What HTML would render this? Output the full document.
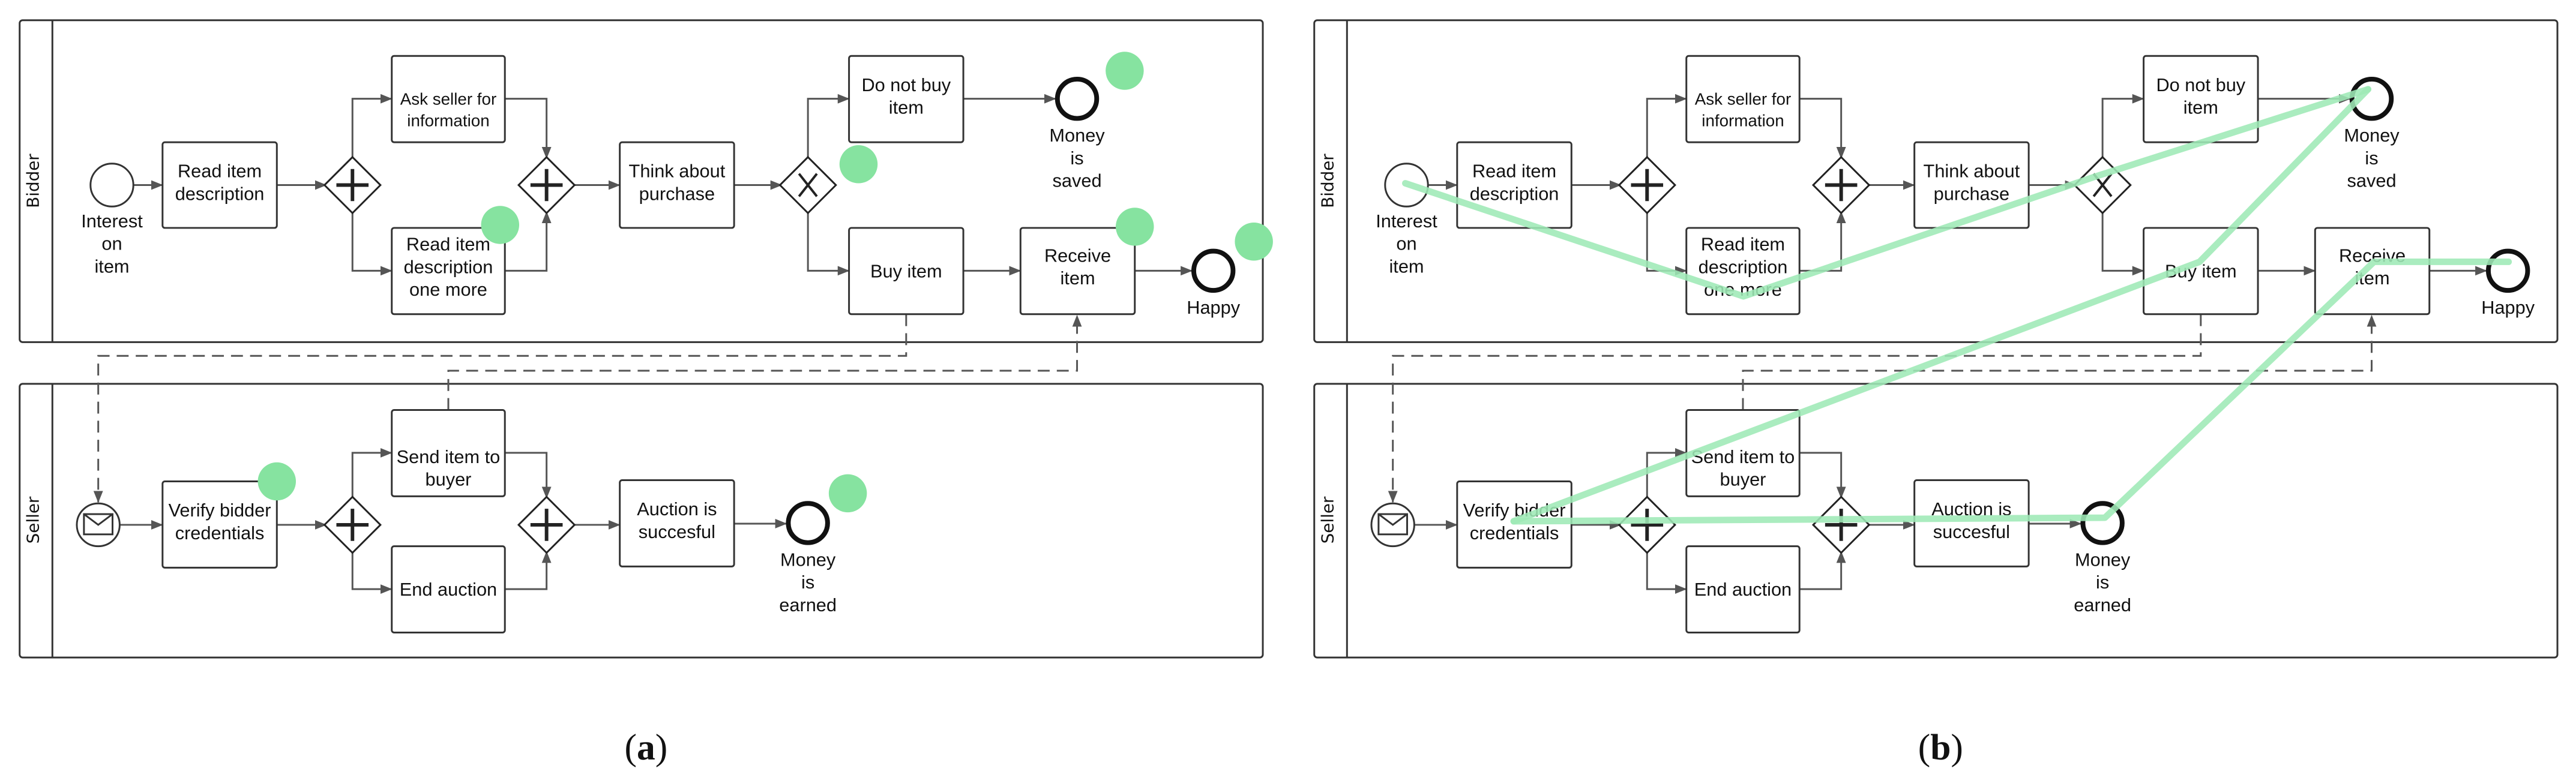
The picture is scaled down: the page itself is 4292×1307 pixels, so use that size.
<!DOCTYPE html>
<html><head><meta charset="utf-8"><style>
html,body{margin:0;padding:0;background:#fff}
svg{display:block}
text{font-family:"Liberation Sans",Arial,sans-serif;fill:#111}
</style></head><body>
<svg width="4292" height="1307" viewBox="0 0 4292 1307" xmlns="http://www.w3.org/2000/svg">
<defs>
<marker id="ar2" markerWidth="20" markerHeight="16" refX="19" refY="8" orient="auto" markerUnits="userSpaceOnUse">
<path d="M0,0 L20,8 L0,16 z" fill="#555"/>
</marker>
</defs>

<!-- PANEL A -->
<g transform="scale(0.992,0.992)">
<g fill="none" stroke="#333" stroke-width="3">
<rect x="33" y="34" width="2088" height="541" rx="5"/>
<line x1="88" y1="34" x2="88" y2="575"/>
<rect x="33" y="645" width="2088" height="460" rx="5"/>
<line x1="88" y1="645" x2="88" y2="1105"/>
</g>
<text transform="translate(65,304) rotate(-90)" text-anchor="middle" style="font-family:'DejaVu Sans','Liberation Sans',sans-serif;font-size:28px">Bidder</text>
<text transform="translate(65,874) rotate(-90)" text-anchor="middle" style="font-family:'DejaVu Sans','Liberation Sans',sans-serif;font-size:28px">Seller</text>
<g fill="none" stroke="#555" stroke-width="3" marker-end="url(#ar2)">
<path d="M224,311 H273"/>
<path d="M465,311 H548"/>
<path d="M592,266 V166 H658"/>
<path d="M592,356 V455 H658"/>
<path d="M848,166 H918 V266"/>
<path d="M848,455 H918 V356"/>
<path d="M962,311 H1041"/>
<path d="M1233,311 H1313"/>
<path d="M1357,266 V166 H1426"/>
<path d="M1357,356 V455 H1426"/>
<path d="M1618,166 H1773"/>
<path d="M1618,455 H1714"/>
<path d="M1906,455 H2002"/>
<path d="M201,882 H273"/>
<path d="M465,882 H548"/>
<path d="M592,837 V761 H658"/>
<path d="M592,927 V990 H658"/>
<path d="M848,761 H918 V837"/>
<path d="M848,990 H918 V927"/>
<path d="M962,882 H1041"/>
<path d="M1233,880 H1321"/>
</g>
<g fill="none" stroke="#555" stroke-width="3" stroke-dasharray="20,12">
<path d="M1522,528 V598 H165 V844" marker-end="url(#ar2)"/>
<path d="M753,689 V623 H1809 V530" marker-end="url(#ar2)"/>
</g>
<g fill="#fff" stroke="#333" stroke-width="3">
<rect x="273" y="239" width="192" height="144" rx="4"/>
<rect x="658" y="94" width="190" height="145" rx="4"/>
<rect x="658" y="383" width="190" height="145" rx="4"/>
<rect x="1041" y="239" width="192" height="144" rx="4"/>
<rect x="1426" y="94" width="192" height="145" rx="4"/>
<rect x="1426" y="383" width="192" height="145" rx="4"/>
<rect x="1714" y="383" width="192" height="145" rx="4"/>
<rect x="273" y="809" width="192" height="145" rx="4"/>
<rect x="658" y="689" width="190" height="145" rx="4"/>
<rect x="658" y="918" width="190" height="145" rx="4"/>
<rect x="1041" y="807" width="192" height="145" rx="4"/>
</g>
<g fill="#fff" stroke="#333" stroke-width="3">
<circle cx="188" cy="311" r="36"/>
<circle cx="165" cy="882" r="36"/>
<rect x="141" y="864" width="48" height="34" fill="none"/>
<path d="M141,864 L165,882 L189,864" fill="none"/>
</g>
<g fill="#fff" stroke="#111" stroke-width="8">
<circle cx="1809" cy="166" r="33"/>
<circle cx="2038" cy="455" r="33"/>
<circle cx="1357" cy="879" r="33"/>
</g>
<g fill="#fff" stroke="#222" stroke-width="3">
<path d="M592,264 L639,311 L592,358 L545,311 z"/>
<path d="M918,264 L965,311 L918,358 L871,311 z"/>
<path d="M1357,264 L1404,311 L1357,358 L1310,311 z"/>
<path d="M592,835 L639,882 L592,929 L545,882 z"/>
<path d="M918,835 L965,882 L918,929 L871,882 z"/>
</g>
<g stroke="#222" stroke-width="6">
<path d="M592,284 V338 M565,311 H619"/>
<path d="M918,284 V338 M891,311 H945"/>
<path d="M592,855 V909 M565,882 H619"/>
<path d="M918,855 V909 M891,882 H945"/>
<path d="M1342,292 L1372,330 M1372,292 L1342,330" stroke-width="4"/>
</g>
<g font-size="31" text-anchor="middle">
<text x="188" y="382">Interest</text><text x="188" y="420">on</text><text x="188" y="458">item</text>
<text x="369" y="298">Read item</text><text x="369" y="336">description</text>
<text x="753" y="176" font-size="28">Ask seller for</text><text x="753" y="212" font-size="28">information</text>
<text x="753" y="421">Read item</text><text x="753" y="459">description</text><text x="753" y="497">one more</text>
<text x="1137" y="298">Think about</text><text x="1137" y="336">purchase</text>
<text x="1522" y="153">Do not buy</text><text x="1522" y="191">item</text>
<text x="1809" y="238">Money</text><text x="1809" y="276">is</text><text x="1809" y="314">saved</text>
<text x="1522" y="466">Buy item</text>
<text x="1810" y="440">Receive</text><text x="1810" y="478">item</text>
<text x="2038" y="527">Happy</text>
<text x="369" y="868">Verify bidder</text><text x="369" y="906">credentials</text>
<text x="753" y="778">Send item to</text><text x="753" y="816">buyer</text>
<text x="753" y="1001">End auction</text>
<text x="1137" y="866">Auction is</text><text x="1137" y="904">succesful</text>
<text x="1357" y="951">Money</text><text x="1357" y="989">is</text><text x="1357" y="1027">earned</text>
</g>
<g fill="#86e3a0">
<circle cx="1889" cy="119" r="32"/>
<circle cx="1442" cy="276" r="32"/>
<circle cx="840" cy="378" r="32"/>
<circle cx="1906" cy="381" r="32"/>
<circle cx="2106" cy="406" r="32"/>
<circle cx="465" cy="809" r="32"/>
<circle cx="1424" cy="829" r="32"/>
</g>
<text x="1085" y="1276" font-size="62" text-anchor="middle" style="font-family:'Liberation Serif',serif">(<tspan font-weight="bold">a</tspan>)</text>
</g>

<!-- PANEL B -->
<g transform="translate(2157,0) scale(0.992,0.992)">
<g fill="none" stroke="#333" stroke-width="3">
<rect x="33" y="34" width="2088" height="541" rx="5"/>
<line x1="88" y1="34" x2="88" y2="575"/>
<rect x="33" y="645" width="2088" height="460" rx="5"/>
<line x1="88" y1="645" x2="88" y2="1105"/>
</g>
<text transform="translate(65,304) rotate(-90)" text-anchor="middle" style="font-family:'DejaVu Sans','Liberation Sans',sans-serif;font-size:28px">Bidder</text>
<text transform="translate(65,874) rotate(-90)" text-anchor="middle" style="font-family:'DejaVu Sans','Liberation Sans',sans-serif;font-size:28px">Seller</text>
<g fill="none" stroke="#555" stroke-width="3" marker-end="url(#ar2)">
<path d="M224,311 H273"/>
<path d="M465,311 H548"/>
<path d="M592,266 V166 H658"/>
<path d="M592,356 V455 H658"/>
<path d="M848,166 H918 V266"/>
<path d="M848,455 H918 V356"/>
<path d="M962,311 H1041"/>
<path d="M1233,311 H1313"/>
<path d="M1357,266 V166 H1426"/>
<path d="M1357,356 V455 H1426"/>
<path d="M1618,166 H1773"/>
<path d="M1618,455 H1714"/>
<path d="M1906,455 H2002"/>
<path d="M201,882 H273"/>
<path d="M465,882 H548"/>
<path d="M592,837 V761 H658"/>
<path d="M592,927 V990 H658"/>
<path d="M848,761 H918 V837"/>
<path d="M848,990 H918 V927"/>
<path d="M962,882 H1041"/>
<path d="M1233,880 H1321"/>
</g>
<g fill="none" stroke="#555" stroke-width="3" stroke-dasharray="20,12">
<path d="M1522,528 V598 H165 V844" marker-end="url(#ar2)"/>
<path d="M753,689 V623 H1809 V530" marker-end="url(#ar2)"/>
</g>
<g fill="#fff" stroke="#333" stroke-width="3">
<rect x="273" y="239" width="192" height="144" rx="4"/>
<rect x="658" y="94" width="190" height="145" rx="4"/>
<rect x="658" y="383" width="190" height="145" rx="4"/>
<rect x="1041" y="239" width="192" height="144" rx="4"/>
<rect x="1426" y="94" width="192" height="145" rx="4"/>
<rect x="1426" y="383" width="192" height="145" rx="4"/>
<rect x="1714" y="383" width="192" height="145" rx="4"/>
<rect x="273" y="809" width="192" height="145" rx="4"/>
<rect x="658" y="689" width="190" height="145" rx="4"/>
<rect x="658" y="918" width="190" height="145" rx="4"/>
<rect x="1041" y="807" width="192" height="145" rx="4"/>
</g>
<g fill="#fff" stroke="#333" stroke-width="3">
<circle cx="188" cy="311" r="36"/>
<circle cx="165" cy="882" r="36"/>
<rect x="141" y="864" width="48" height="34" fill="none"/>
<path d="M141,864 L165,882 L189,864" fill="none"/>
</g>
<g fill="#fff" stroke="#111" stroke-width="8">
<circle cx="1809" cy="166" r="33"/>
<circle cx="2038" cy="455" r="33"/>
<circle cx="1357" cy="879" r="33"/>
</g>
<g fill="#fff" stroke="#222" stroke-width="3">
<path d="M592,264 L639,311 L592,358 L545,311 z"/>
<path d="M918,264 L965,311 L918,358 L871,311 z"/>
<path d="M1357,264 L1404,311 L1357,358 L1310,311 z"/>
<path d="M592,835 L639,882 L592,929 L545,882 z"/>
<path d="M918,835 L965,882 L918,929 L871,882 z"/>
</g>
<g stroke="#222" stroke-width="6">
<path d="M592,284 V338 M565,311 H619"/>
<path d="M918,284 V338 M891,311 H945"/>
<path d="M592,855 V909 M565,882 H619"/>
<path d="M918,855 V909 M891,882 H945"/>
<path d="M1342,292 L1372,330 M1372,292 L1342,330" stroke-width="4"/>
</g>
<g font-size="31" text-anchor="middle">
<text x="188" y="382">Interest</text><text x="188" y="420">on</text><text x="188" y="458">item</text>
<text x="369" y="298">Read item</text><text x="369" y="336">description</text>
<text x="753" y="176" font-size="28">Ask seller for</text><text x="753" y="212" font-size="28">information</text>
<text x="753" y="421">Read item</text><text x="753" y="459">description</text><text x="753" y="497">one more</text>
<text x="1137" y="298">Think about</text><text x="1137" y="336">purchase</text>
<text x="1522" y="153">Do not buy</text><text x="1522" y="191">item</text>
<text x="1809" y="238">Money</text><text x="1809" y="276">is</text><text x="1809" y="314">saved</text>
<text x="1522" y="466">Buy item</text>
<text x="1810" y="440">Receive</text><text x="1810" y="478">item</text>
<text x="2038" y="527">Happy</text>
<text x="369" y="868">Verify bidder</text><text x="369" y="906">credentials</text>
<text x="753" y="778">Send item to</text><text x="753" y="816">buyer</text>
<text x="753" y="1001">End auction</text>
<text x="1137" y="866">Auction is</text><text x="1137" y="904">succesful</text>
<text x="1357" y="951">Money</text><text x="1357" y="989">is</text><text x="1357" y="1027">earned</text>
</g>
<text x="1085" y="1276" font-size="62" text-anchor="middle" style="font-family:'Liberation Serif',serif">(<tspan font-weight="bold">b</tspan>)</text>
<g fill="none" stroke="#9ee9b6" stroke-opacity="0.88" stroke-width="11" stroke-linejoin="round" stroke-linecap="round">
<path d="M186,308 L754,498 L1347,296 L1803,150"/>
<path d="M368,876 L1520,440 L1803,150"/>
<path d="M368,876 L1361,870 L1813,440 L2039,440"/>
</g>
</g>
</svg>
</body></html>
